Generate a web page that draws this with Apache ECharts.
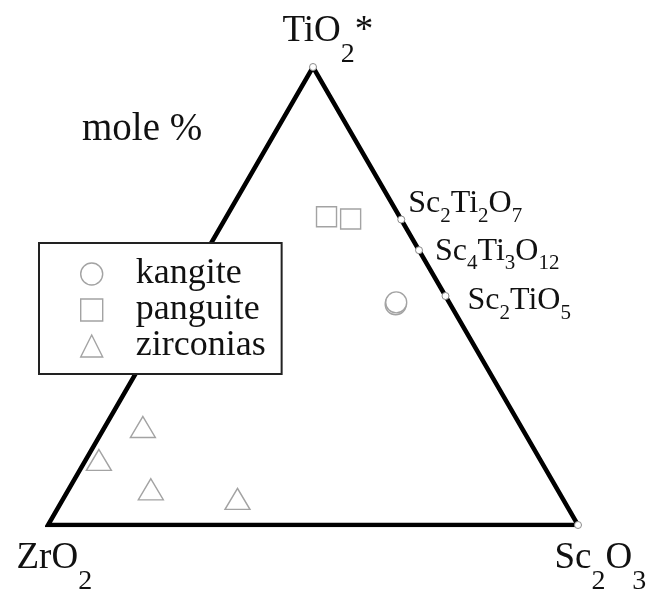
<!DOCTYPE html>
<html>
<head>
<meta charset="utf-8">
<script src="https://cdn.jsdelivr.net/npm/echarts@6/dist/echarts.min.js"></script>
<style>
  html, body { margin: 0; padding: 0; background: #fff; }
  #chart { width: 657px; height: 593px; }
</style>
</head>
<body>
<div id="chart"></div>
<script>
// Ternary system TiO2* – ZrO2 – Sc2O3, compositions in mole %

// End members
const vertexNames = ['TiO2*', 'ZrO2', 'Sc2O3'];
const vertexTiO2 = [100, 0, 0];
const vertexZrO2 = [0, 100, 0];
const vertexSc2O3 = [0, 0, 100];

// Scandium titanates on the TiO2–Sc2O3 join
const compoundNames = ['Sc2Ti2O7', 'Sc4Ti3O12', 'Sc2TiO5'];
const compoundTiO2 = [66.7, 60, 50];
const compoundZrO2 = [0, 0, 0];
const compoundSc2O3 = [33.3, 40, 50];

// Analysed grains
const kangiteTiO2 = [48.2, 48.6];
const kangiteZrO2 = [10.3, 10.0];
const kangiteSc2O3 = [41.5, 41.4];

const panguiteTiO2 = [67.3, 66.8];
const panguiteZrO2 = [13.8, 9.5];
const panguiteSc2O3 = [18.9, 23.7];

const zirconiaTiO2 = [21.4, 14.2, 7.8, 5.7];
const zirconiaZrO2 = [71.4, 83.3, 76.7, 61.4];
const zirconiaSc2O3 = [7.2, 2.5, 15.5, 32.9];

const seriesNames = ['kangite', 'panguite', 'zirconias'];

// Ternary composition -> cartesian (ZrO2 at origin, Sc2O3 at x = 1, TiO2 at apex)
const H = Math.sqrt(3) / 2;
function toXY(t, z, s) {
  const sum = t + z + s;
  const ft = t / sum, fs = s / sum;
  return [fs + ft / 2, ft * H];
}
function points(t, z, s) {
  return t.map((v, i) => toXY(v, z[i], s[i]));
}

// Chemical formula -> rich text with subscripted digits
function formula(name, big) {
  const b = big ? 'B' : 'b', s = big ? 'S' : 's';
  return name.replace(/(\d+)|(\D+)/g, (m, d, t) => d ? '{' + s + '|' + d + '}' : '{' + b + '|' + t + '}');
}

const serif = '"Liberation Serif", "Times New Roman", serif';
const ink = '#111';
const markerEdge = '#a3a3a3';

const rich = {
  B: { fontFamily: serif, fontSize: 37, lineHeight: 37, color: ink, verticalAlign: 'top' },
  S: { fontFamily: serif, fontSize: 28, lineHeight: 28, color: ink, verticalAlign: 'top', padding: [28, 0, 0, 0] },
  b: { fontFamily: serif, fontSize: 32, lineHeight: 32, color: ink, verticalAlign: 'top' },
  s: { fontFamily: serif, fontSize: 21, lineHeight: 21, color: ink, verticalAlign: 'top', padding: [18, 0, 0, 0] }
};

const vertexXY = points(vertexTiO2, vertexZrO2, vertexSc2O3);
const compoundXY = points(compoundTiO2, compoundZrO2, compoundSc2O3);

// Outline: ZrO2 -> Sc2O3 -> TiO2 -> ZrO2, one extra leg so every corner is joined
const outline = [vertexXY[1], vertexXY[2], vertexXY[0], vertexXY[1], vertexXY[2]];

const vertexLabelPos = [[-26.5, -50], [-27.5, 19], [-19.5, 19]];
const compoundLabelPos = [[11, -28], [20, -11], [26, -7]];

const dotStyle = { color: '#fff', borderColor: '#8a8a8a', borderWidth: 1, opacity: 1 };
const markStyle = { color: '#fff', borderColor: markerEdge, borderWidth: 1.4, opacity: 1 };

const chart = echarts.init(document.getElementById('chart'), null, { renderer: 'canvas' });
chart.setOption({
  animation: false,
  backgroundColor: '#fff',
  grid: { left: 48, right: 79, top: 67, bottom: 68 },
  xAxis: { type: 'value', min: 0, max: 1, show: false },
  yAxis: { type: 'value', min: 0, max: H, show: false },
  legend: {
    data: seriesNames,
    orient: 'vertical',
    left: 39,
    top: 243,
    padding: [13, 16, 10, 41],
    itemWidth: 22,
    itemHeight: 22,
    itemGap: 0,
    borderColor: '#222',
    borderWidth: 2,
    backgroundColor: '#fff',
    selectedMode: false,
    itemStyle: { color: '#fff', borderColor: markerEdge, borderWidth: 1.4, opacity: 1 },
    textStyle: { fontFamily: serif, fontSize: 36, lineHeight: 34, color: ink, padding: [0, 0, 0, 28] }
  },
  graphic: [{
    type: 'text',
    x: 82,
    y: 130,
    style: { text: 'mole %', font: '39px ' + serif, fill: ink, verticalAlign: 'middle', align: 'left' }
  }],
  series: [
    {
      type: 'scatter',
      name: seriesNames[0],
      symbol: 'circle',
      symbolSize: 21,
      z: 2,
      itemStyle: markStyle,
      data: points(kangiteTiO2, kangiteZrO2, kangiteSc2O3)
    },
    {
      type: 'scatter',
      name: seriesNames[1],
      symbol: 'rect',
      symbolSize: 20,
      z: 2,
      itemStyle: markStyle,
      data: points(panguiteTiO2, panguiteZrO2, panguiteSc2O3)
    },
    {
      type: 'scatter',
      name: seriesNames[2],
      symbol: 'triangle',
      symbolSize: [25, 21],
      z: 2,
      itemStyle: markStyle,
      data: points(zirconiaTiO2, zirconiaZrO2, zirconiaSc2O3)
    },
    {
      type: 'line',
      name: 'outline',
      data: outline,
      symbol: 'none',
      silent: true,
      z: 3,
      lineStyle: { color: '#000', width: 4.5, join: 'miter', cap: 'butt', opacity: 1 }
    },
    {
      type: 'scatter',
      name: 'end members',
      symbol: 'circle',
      symbolSize: 7,
      z: 4,
      silent: true,
      itemStyle: { opacity: 1 },
      data: vertexXY.map((p, i) => ({
        value: p,
        itemStyle: i === 1 ? { color: 'rgba(0,0,0,0)', borderColor: 'rgba(0,0,0,0)', opacity: 1 } : dotStyle,
        label: {
          show: true,
          position: vertexLabelPos[i],
          align: 'left',
          verticalAlign: 'top',
          color: ink,
          opacity: 1,
          formatter: formula(vertexNames[i], true),
          rich: rich
        }
      }))
    },
    {
      type: 'scatter',
      name: 'titanates',
      symbol: 'circle',
      symbolSize: 7,
      z: 4,
      silent: true,
      itemStyle: dotStyle,
      data: compoundXY.map((p, i) => ({
        value: p,
        label: {
          show: true,
          position: compoundLabelPos[i],
          align: 'left',
          verticalAlign: 'top',
          color: ink,
          opacity: 1,
          formatter: formula(compoundNames[i], false),
          rich: rich
        }
      }))
    }
  ]
});
</script>
</body>
</html>
